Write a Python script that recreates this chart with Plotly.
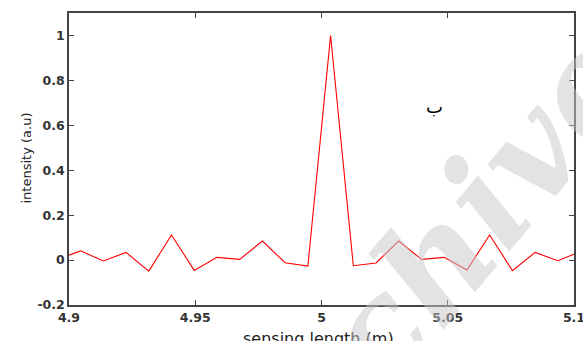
import plotly.graph_objects as go

x_m = [4.8956, 4.9046, 4.9136, 4.9226, 4.9316, 4.9406, 4.9496, 4.9586, 4.9676, 4.9766,
       4.9856, 4.9946, 5.0036, 5.0126, 5.0216, 5.0306, 5.0396, 5.0486, 5.0576, 5.0666,
       5.0756, 5.0846, 5.0936, 5.1026]
intensity = [0.004, 0.041, -0.004, 0.034, -0.049, 0.112, -0.046, 0.012, 0.003, 0.085,
             -0.012, -0.027, 1.0, -0.025, -0.013, 0.085, 0.003, 0.012, -0.044, 0.112,
             -0.047, 0.034, -0.003, 0.038]
x_ticks = [4.9, 4.95, 5.0, 5.05, 5.1]
x_tick_labels = ["4.9", "4.95", "5", "5.05", "5.1"]
y_ticks = [-0.2, 0, 0.2, 0.4, 0.6, 0.8, 1.0]
y_tick_labels = ["-0.2", "0", "0.2", "0.4", "0.6", "0.8", "1"]

L, R, T, B = 69, 9, 13, 36
W, H = 583, 341
PW, PH = W - L - R, H - T - B


def px(x):
    return (x - L) / PW


def py(y):
    return (H - B - y) / PH


fig = go.Figure()
fig.add_trace(go.Scatter(x=x_m, y=intensity, mode="lines",
                         line=dict(color="#ff0000", width=1.1), showlegend=False))

axis_common = dict(showgrid=False, zeroline=False, showline=True, linecolor="#444",
                   linewidth=1.5, mirror="ticks", ticks="inside", ticklen=5,
                   tickcolor="#444", automargin=False, ticklabeloverflow="allow",
                   tickfont=dict(family="DejaVu Sans", size=12.5, color="#333",
                                 weight="bold"))

fig.update_xaxes(range=[4.9, 5.1], tickvals=x_ticks, ticktext=x_tick_labels, **axis_common)
fig.update_yaxes(range=[-0.2, 1.1], tickvals=y_ticks, ticktext=y_tick_labels, **axis_common)

# axis titles
fig.add_annotation(x=px(318), y=py(327), xref="paper", yref="paper", yanchor="top",
                   text="sensing length (m)", showarrow=False,
                   font=dict(family="DejaVu Sans", size=16, color="#222"))
fig.add_annotation(x=px(16), y=py(158), xref="paper", yref="paper", textangle=-90,
                   text="intensity (a.u)", showarrow=False,
                   font=dict(family="DejaVu Sans", size=13, color="#222"))

fig.add_annotation(x=px(445), y=py(94), xref="paper", yref="paper", text="ب",
                   showarrow=False, font=dict(size=18, color="black", family="DejaVu Sans"))

# watermark
fig.add_annotation(x=px(480), y=py(210), xref="paper", yref="paper", text="<b><i>chive</i></b>",
                   showarrow=False, textangle=-50, xanchor="center", yanchor="middle",
                   font=dict(size=140, color="rgba(200,200,200,0.5)", family="DejaVu Serif"))

fig.update_layout(width=W, height=H, margin=dict(l=L, r=R, t=T, b=B),
                  paper_bgcolor="white", plot_bgcolor="white")

fig.write_html("out.html")
